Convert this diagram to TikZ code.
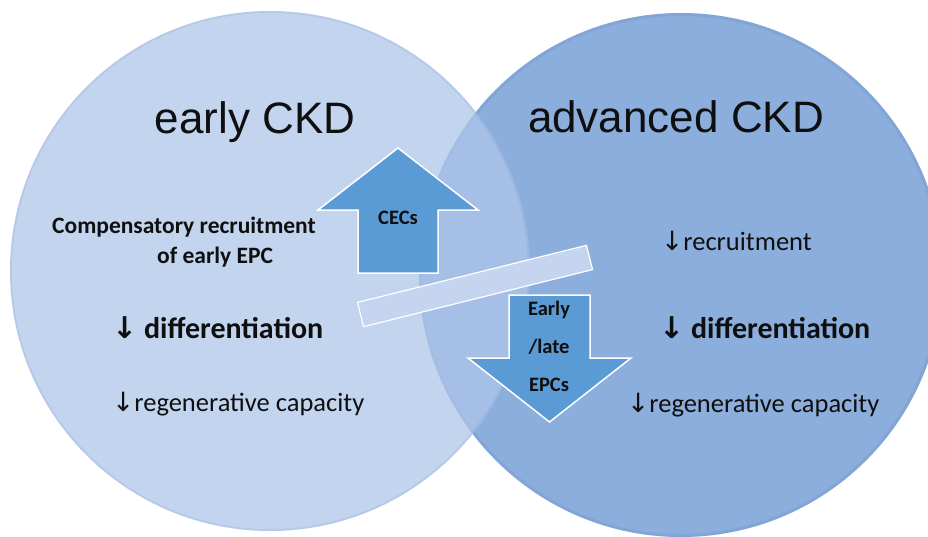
\documentclass[tikz,border=0pt]{standalone}
\usepackage{fontspec}
\setmainfont{Carlito}
\newfontfamily\headfont{Liberation Sans}
\newfontfamily\arrowfont{DejaVu Sans}
\definecolor{earlyfill}{RGB}{175,198,234}
\definecolor{advfill}{RGB}{139,174,220}
\definecolor{rimblue}{RGB}{110,145,200}
\definecolor{barfill}{RGB}{197,213,239}
\definecolor{cellfill}{RGB}{91,155,213}
\definecolor{ink}{RGB}{15,15,15}
\newcommand{\dn}{{\arrowfont ↓}}

\begin{document}
\begin{tikzpicture}[x=1pt, y=-1pt, every node/.style={text=ink, inner sep=0pt},
    title/.style={font=\headfont\fontsize{44}{44}\selectfont, anchor=base},
    plain/.style={font=\fontsize{26.5}{26.5}\selectfont, anchor=base west},
    strong/.style={font=\bfseries\fontsize{30}{30}\selectfont, anchor=base west},
    note/.style={font=\bfseries\fontsize{23.5}{23.5}\selectfont, anchor=base west},
    cell/.style={fill=cellfill, draw=white, line width=1.5pt, line join=miter},
    celltext/.style={font=\bfseries\fontsize{20.5}{20.5}\selectfont}]
    \useasboundingbox (0,0) rectangle (928,536);
    % the two stages
    \fill[advfill] (681,275) circle[radius=262];
    \draw[rimblue, line width=3pt, draw opacity=0.3] (681,275) circle[radius=260.5];
    \fill[earlyfill, fill opacity=0.75] (270,271) circle[radius=260];
    \draw[rimblue, line width=2pt, draw opacity=0.15] (270,271) circle[radius=259];
    \node[title] (early) at (255,133) {early CKD};
    \node[title] (adv) at (676,132) {advanced CKD};
    % left side
    \node[note] (comp) at (52,233) {Compensatory recruitment};
    \node[note] (ofepc) at (157,263) {of early EPC};
    \node[strong] (diffl) at (112,338) {\dn\ differentiation};
    \node[plain] (regl) at (112,411) {\dn regenerative capacity};
    % right side
    \node[plain] (recr) at (661,250) {\dn recruitment};
    \node[strong] (diffr) at (659,338) {\dn\ differentiation};
    \node[plain] (regr) at (627,412) {\dn regenerative capacity};
    % the lever between both
    \node[fill=barfill, draw=white, line width=1.2pt, minimum width=236pt,
        minimum height=25pt, rotate=14] (bar) at (475,286) {};
    % up and down block arrows
    \draw[cell] (358,273) -- (358,210) -- (318,210) -- (398,148) -- (478,210)
        -- (438,210) -- (438,273) -- cycle;
    \node[celltext] (cec) at (398,218) {CECs};
    \draw[cell] (509,295) -- (590,295) -- (590,358) -- (631,358) -- (549.5,422)
        -- (468,358) -- (509,358) -- cycle;
    \node[celltext] (epc1) at (549,310) {Early};
    \node[celltext] (epc2) at (549,347) {/late};
    \node[celltext] (epc3) at (549,385) {EPCs};
\end{tikzpicture}
\end{document}
